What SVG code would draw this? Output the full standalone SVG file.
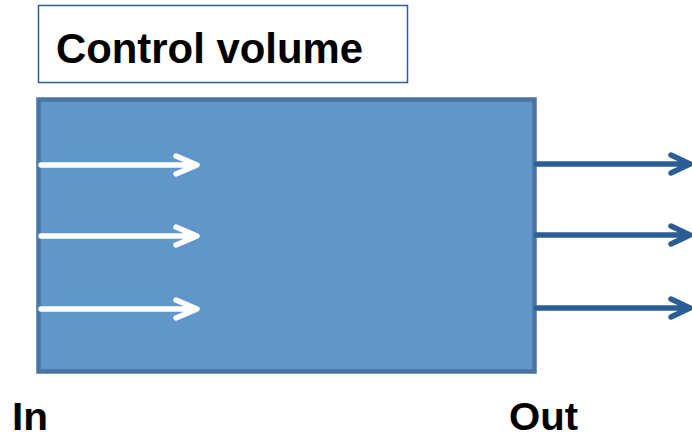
<svg xmlns="http://www.w3.org/2000/svg" width="692" height="440" viewBox="0 0 692 440">
<style>
.lbl{font-family:"Liberation Sans",Arial,sans-serif;font-weight:bold;font-size:42px;fill:#000}
.sm{font-size:38px}
.win{stroke:#fff;stroke-width:5.5;fill:none;stroke-linecap:round;stroke-linejoin:round}
.wout{stroke:#2a5d94;stroke-width:5.5;fill:none;stroke-linecap:round;stroke-linejoin:round}
</style>
<rect width="692" height="440" fill="#fff"/>
<g id="title">
<rect x="38.5" y="5.5" width="369" height="77" fill="#fff" stroke="#2e5e9a" stroke-width="1.5"/>
<text class="lbl" x="56" y="63" textLength="307" lengthAdjust="spacingAndGlyphs">Control volume</text>
</g>
<g id="cv">
<rect x="38.5" y="99.5" width="496" height="272" fill="#6096c9" stroke="#4a74a2" stroke-width="4.5"/>
</g>
<g id="connectors">
<path class="win" d="M41 165H196M176 156L197 165L176 174"/>
<path class="win" d="M41 236H196M176 227L197 236L176 245"/>
<path class="win" d="M41 309H196M176 300L197 309L176 318"/>
<path class="wout" d="M537 164H689M671 155L690 164L671 173"/>
<path class="wout" d="M537 235H689M671 226L690 235L671 244"/>
<path class="wout" d="M537 308H689M671 299L690 308L671 317"/>
</g>
<g id="in"><text class="lbl sm" x="12" y="430" textLength="36" lengthAdjust="spacingAndGlyphs">In</text></g>
<g id="out"><text class="lbl sm" x="509" y="430" textLength="69" lengthAdjust="spacingAndGlyphs">Out</text></g>
</svg>
